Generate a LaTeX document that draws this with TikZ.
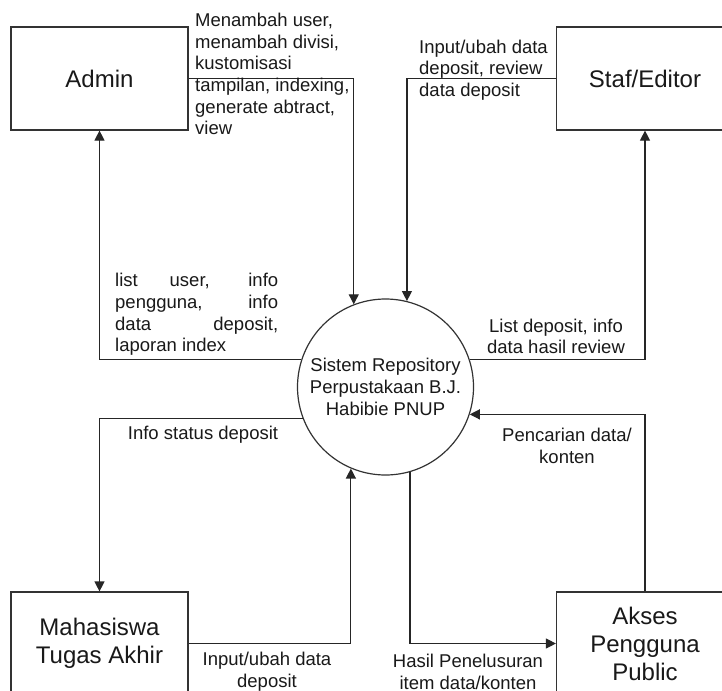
\documentclass[tikz,border=0pt]{standalone}
\usepackage{fontspec}
\setmainfont{Liberation Sans}
\usetikzlibrary{arrows.meta}

\begin{document}
\begin{tikzpicture}[x=1pt,y=-1pt,
        ent/.style={draw=black!80,line width=1.2pt,minimum width=177pt,minimum height=103pt,
          align=center,font=\fontsize{24}{28}\selectfont,text=black!90},
        proc/.style={draw=black!80,line width=1.2pt,circle,minimum size=176pt,inner sep=0pt,
          align=center,font=\fontsize{18.5}{21.7}\selectfont,text=black!90},
        flow/.style={draw=black!85,line width=1.2pt,-{Triangle[length=10pt,width=10pt]}},
        lbl/.style={inner sep=0pt,font=\fontsize{18.5}{21.7}\selectfont,text=black!90}]
  \useasboundingbox (0,0) rectangle (722,690);
  \fill[white] (0,0) rectangle (722,690);
  % entities and the process
  \node[ent] (admin) at (99.5,78.5) {Admin};
  \node[ent] (staf) at (645,78.5) {Staf/Editor};
  \node[ent] (mhs) at (99.5,643.5) {Mahasiswa\\Tugas Akhir};
  \node[ent] (pub) at (645,643.5) {Akses\\Pengguna\\Public};
  \node[proc] (sys) at (385.5,387) {Sistem Repository\\Perpustakaan B.J.\\Habibie PNUP};
  % data flows
  \draw[flow] (admin.east) -| (sys.111);
  \draw[flow] (staf.west) -| (sys.76);
  \draw[flow] (sys.162) -| (admin.south);
  \draw[flow] (sys.18) -| (staf.south);
  \draw[flow] (sys.201) -| (mhs.north);
  \draw[flow] (mhs.east) -| (sys.247);
  \draw[flow] (pub.north) |- (sys.-18);
  \draw[flow] (sys.286) |- (pub.west);
  % flow labels
  \node[lbl,anchor=west,align=left] (adminIn) at (195,74)
    {Menambah user,\\menambah divisi,\\kustomisasi\\tampilan, indexing,\\generate abtract,\\view};
  \node[lbl,anchor=west,align=left] (stafIn) at (419,70)
    {Input/ubah data\\deposit, review\\data deposit};
  \node[lbl,anchor=west,align=left] (adminOut) at (115,314.5)
    {\makebox[163pt][s]{list user, info}\\\makebox[163pt][s]{pengguna, info}\\
     \makebox[163pt][s]{data deposit,}\\laporan index};
  \node[lbl,align=center] (stafOut) at (556,336.5) {List deposit, info\\data hasil review};
  \node[lbl] (mhsOut) at (203,435) {Info status deposit};
  \node[lbl,align=center] (pubIn) at (567,446) {Pencarian data/\\konten};
  \node[lbl,align=center] (mhsIn) at (267,672) {Input/ubah data\\deposit};
  \node[lbl,align=center] (pubOut) at (468,672) {Hasil Penelusuran\\item data/konten};
\end{tikzpicture}
\end{document}
